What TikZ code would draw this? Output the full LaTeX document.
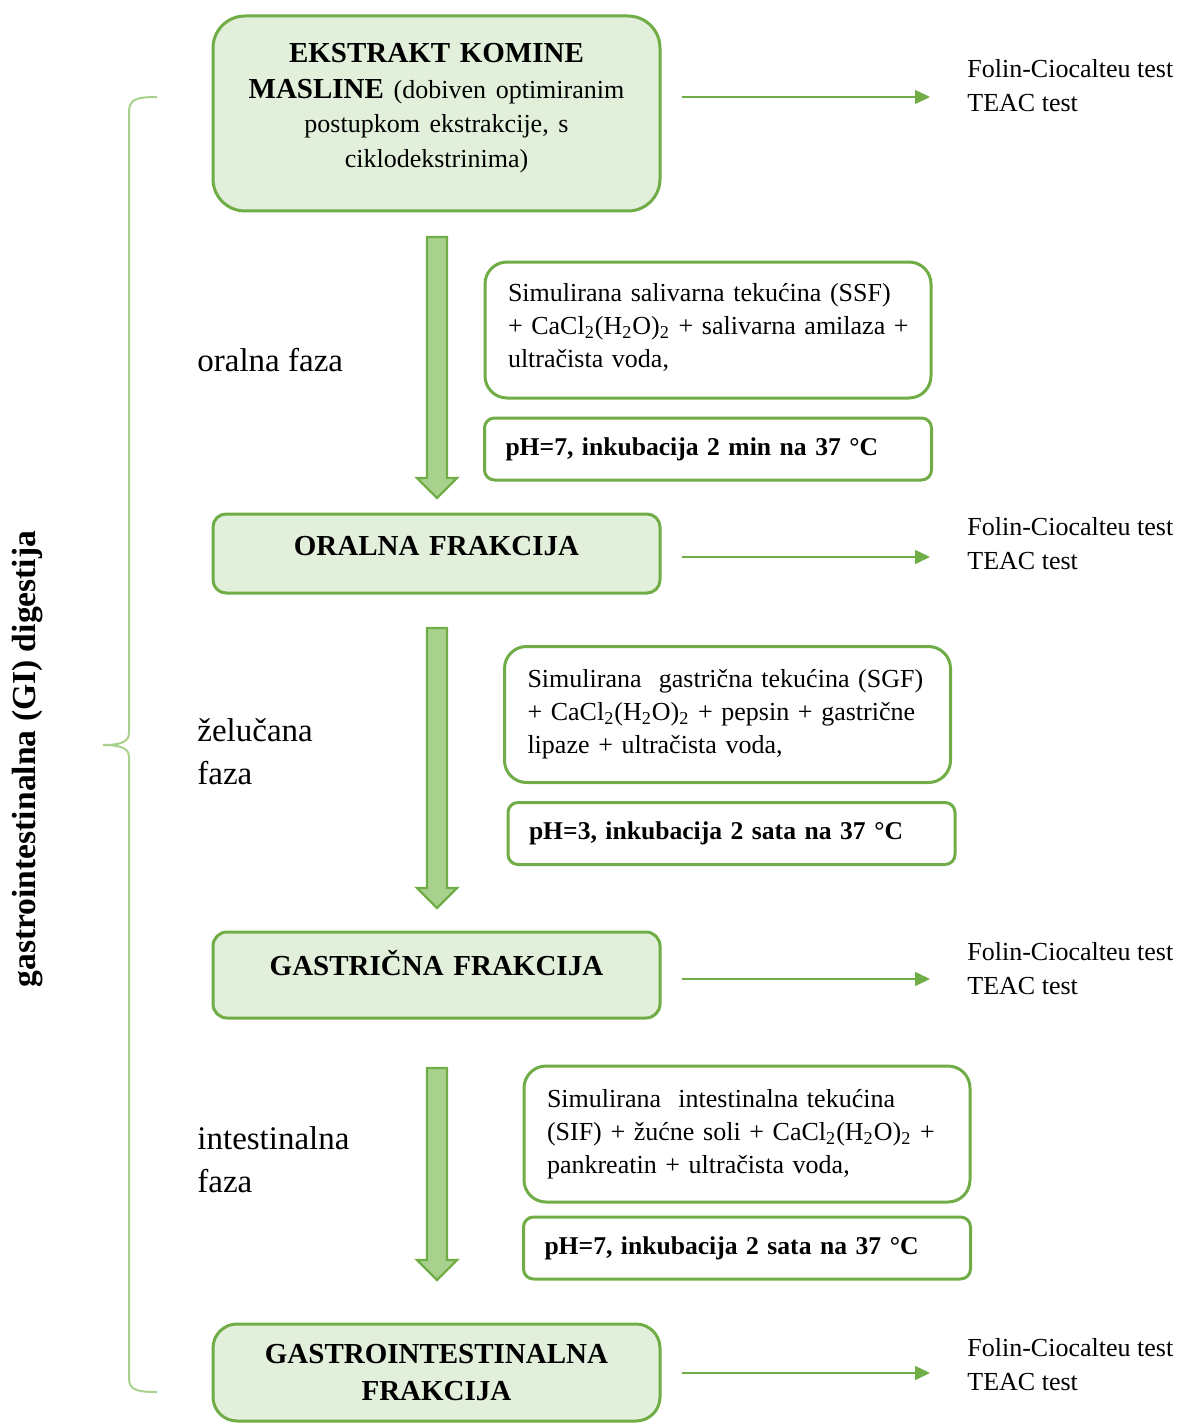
\documentclass[tikz,border=0pt]{standalone}
\usepackage{fontspec}
\setmainfont{Liberation Serif}
\usepackage{xcolor}
\usetikzlibrary{positioning, calc, arrows.meta}

\definecolor{okvir}{HTML}{70AD47}
\definecolor{zelena}{HTML}{E2EFDA}
\definecolor{strelica}{HTML}{A9D18E}

\begin{document}
\begin{tikzpicture}[
    x=0.5pt, y=-0.5pt,
    fraknode/.style={rectangle, draw=okvir, fill=zelena, line width=1.5pt, minimum width=223.5pt, text width=205pt, align=center, inner xsep=9pt, font=\fontsize{14.5}{17.5}\selectfont\bfseries},
    uvjetnode/.style={rectangle, rounded corners=11pt, draw=okvir, fill=white, line width=1.5pt, minimum width=223pt, minimum height=68pt, text width=200pt, inner xsep=11.5pt, align=left, font=\fontsize{13}{16.5}\selectfont},
    phnode/.style={rectangle, rounded corners=5pt, draw=okvir, fill=white, line width=1.5pt, minimum width=223.5pt, minimum height=31pt, text width=202.5pt, inner xsep=10.5pt, align=left, font=\fontsize{12.8}{16.5}\selectfont\bfseries},
    faznode/.style={anchor=west, inner sep=0pt, align=left, font=\fontsize{16.5}{21.5}\selectfont},
    testnode/.style={anchor=west, inner sep=0pt, align=left, font=\fontsize{13}{17}\selectfont},
    testarrow/.style={draw=okvir, line width=0.75pt, -{Triangle[length=7.5pt, width=7pt]}, shorten <=10pt},
    blokarrow/.style={draw=okvir, fill=strelica, line width=1.2pt, line join=miter},
    ]
    \useasboundingbox (0,0) rectangle (1181,1423);

    %Frakcije
    \node[fraknode, rounded corners=16pt, minimum height=97.5pt] (ekstrakt) at (436.5,113.5)
        {EKSTRAKT KOMINE\\[1pt]MASLINE {\mdseries\fontsize{13}{17}\selectfont (dobiven optimiranim\\postupkom ekstrakcije, s\\ciklodekstrinima)\vspace*{5pt}}};
    \node[fraknode, rounded corners=6.5pt, minimum height=39.5pt, text depth=8pt] (oralna) at (436.5,553.5) {ORALNA FRAKCIJA};
    \node[fraknode, rounded corners=7pt, minimum height=43pt, text depth=12pt] (gastricna) at (436.5,975) {GASTRIČNA FRAKCIJA};
    \node[fraknode, rounded corners=12pt, minimum height=48.5pt, font=\fontsize{14.5}{18.5}\selectfont\bfseries] (gi) at (436.5,1372.5) {GASTROINTESTINALNA\\FRAKCIJA};

    %Uvjeti
    \node[uvjetnode] (ssf) at (708,330)
        {Simulirana salivarna tekućina (SSF)\\\mbox{+ CaCl\textsubscript{2}(H\textsubscript{2}O)\textsubscript{2} + salivarna amilaza +}\\ultračista voda,\vspace*{2.5pt}};
    \node[phnode] (ph1) [below=8.5pt of ssf] {pH=7, inkubacija 2 min na 37 °C};
    \node[uvjetnode] (sgf) at (727.5,714.5)
        {Simulirana \ gastrična tekućina (SGF)\\+ CaCl\textsubscript{2}(H\textsubscript{2}O)\textsubscript{2} + pepsin + gastrične\\lipaze + ultračista voda,};
    \node[phnode] (ph2) [below=8.5pt of sgf, xshift=2pt] {pH=3, inkubacija 2 sata na 37 °C};
    \node[uvjetnode] (sif) at (747,1134)
        {Simulirana \ intestinalna tekućina\\(SIF) + žućne soli + CaCl\textsubscript{2}(H\textsubscript{2}O)\textsubscript{2} +\\pankreatin + ultračista voda,};
    \node[phnode] (ph3) [below=6pt of sif] {pH=7, inkubacija 2 sata na 37 °C};

    %Faze
    \node[faznode] (f1) at (197,360) {oralna faza};
    \node[faznode] (f2) at (197,751.5) {želučana\\faza};
    \node[faznode] (f3) at (197,1159.5) {intestinalna\\faza};

    %Testovi
    \node[testnode] (t1) at (967,86) {Folin-Ciocalteu test\\TEAC test};
    \node[testnode] (t2) at (967,543.5) {Folin-Ciocalteu test\\TEAC test};
    \node[testnode] (t3) at (967,968.5) {Folin-Ciocalteu test\\TEAC test};
    \node[testnode] (t4) at (967,1364.5) {Folin-Ciocalteu test\\TEAC test};

    \coordinate (k1) at (930,97);
    \coordinate (k2) at (930,557);
    \coordinate (k3) at (930,979);
    \coordinate (k4) at (930,1373);
    \draw[testarrow] (ekstrakt.east |- k1) -- (k1);
    \draw[testarrow] (oralna.east |- k2) -- (k2);
    \draw[testarrow] (gastricna.east |- k3) -- (k3);
    \draw[testarrow] (gi.east |- k4) -- (k4);

    %Velike strelice
    \coordinate (s1) at (437,237);
    \coordinate (e1) at (437,498);
    \coordinate (s2) at (437,628);
    \coordinate (e2) at (437,908);
    \coordinate (s3) at (437,1068);
    \coordinate (e3) at (437,1280);
    \foreach \s/\e in {s1/e1, s2/e2, s3/e3}
        \draw[blokarrow] ($(\s)+(-10,0)$) -- ($(\e)+(-10,-20)$) -- ($(\e)+(-20,-20)$) -- (\e)
            -- ($(\e)+(20,-20)$) -- ($(\e)+(10,-20)$) -- ($(\s)+(10,0)$) -- cycle;

    %Zagrada
    \draw[strelica, line width=1pt] (157,97) .. controls (137,97) and (129,99) .. (129,112) -- (129,733)
        .. controls (129,742) and (120,745) .. (103,745)
        .. controls (120,745) and (129,748) .. (129,757) -- (129,1378)
        .. controls (129,1390) and (137,1392) .. (157,1392);
    \node[rotate=90, inner sep=0pt, font=\fontsize{16.8}{20}\selectfont\bfseries] (naslov) at (28,759)
        {gastrointestinalna (GI) digestija};
\end{tikzpicture}
\end{document}
